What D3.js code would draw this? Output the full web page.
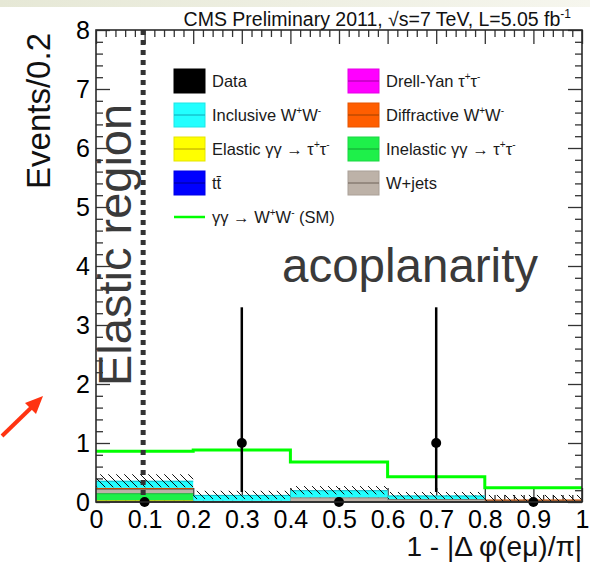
<!DOCTYPE html>
<html>
<head>
<meta charset="utf-8">
<script src="https://cdn.jsdelivr.net/npm/d3@7"></script>
<style>
	body { margin: 0; background: #fff; }
	svg { display: block; font-family: "Liberation Sans", Arial, Helvetica, sans-serif; }
	.axis path, .axis line { stroke: #333; }
	.axis text { fill: #000; font-size: 25px; font-family: "Liberation Sans", Arial, sans-serif; }
	.legend text { font-size: 16.5px; fill: #1a1a1a; }
</style>
</head>
<body>
<div class="chart"></div>
<script>
//---->DATA<-----//
const binEdges = [0, 0.2, 0.4, 0.6, 0.8, 1.0];
const dataCounts = [0, 1, 0, 1, 0];
const dataErrLow = [0, 0.83, 0, 0.83, 0];
const dataErrHigh = [0, 2.30, 0, 2.30, 0];

// stacked backgrounds, bottom to top
const elasticTauTau = [0.03, 0, 0, 0, 0];
const inelasticTauTau = [0.12, 0, 0, 0, 0];
const ttbar = [0, 0, 0, 0, 0];
const wJets = [0.07, 0.02, 0.08, 0.05, 0.03];
const diffractiveWW = [0.02, 0, 0, 0, 0.01];
const drellYan = [0, 0, 0, 0, 0];
const inclusiveWW = [0.12, 0.10, 0.12, 0.06, 0];
const bkgUncert = [0.11, 0.07, 0.07, 0.06, 0.08];

const smSignal = [0.86, 0.88, 0.68, 0.43, 0.24];

const xTicks = [0, 0.1, 0.2, 0.3, 0.4, 0.5, 0.6, 0.7, 0.8, 0.9, 1];
const yTicks = [0, 1, 2, 3, 4, 5, 6, 7, 8];
const elasticCut = 0.097;

//---->LAYOUT<-----//
const outerW = 590,
	outerH = 566;

const margin = { left: 96, right: 8, top: 30, bottom: 64 };
const w = outerW - margin.left - margin.right,
	h = outerH - margin.top - margin.bottom;

const x = d3.scaleLinear().domain([0, 1]).range([0, w]);
const y = d3.scaleLinear().domain([0, 8]).range([h, 0]);

const layers = [
	{ key: 'elastic', values: elasticTauTau, fill: '#ffff00', line: '#b8a000' },
	{ key: 'inelastic', values: inelasticTauTau, fill: '#1ef04a', line: '#10a030' },
	{ key: 'ttbar', values: ttbar, fill: '#0000ff', line: '#000090' },
	{ key: 'wjets', values: wJets, fill: '#bdb2a8', line: '#6e6258' },
	{ key: 'diffractive', values: diffractiveWW, fill: '#ff5e00', line: '#a04000' },
	{ key: 'dy', values: drellYan, fill: '#ff00ff', line: '#a000a0' },
	{ key: 'inclusive', values: inclusiveWW, fill: '#22ffff', line: '#10a8b8' }
];

const bins = d3.range(binEdges.length - 1).map(i => {
	const b = { i: i, x0: binEdges[i], x1: binEdges[i + 1] };
	layers.forEach(l => b[l.key] = l.values[i]);
	return b;
});

const stacked = d3.stack().keys(layers.map(l => l.key))(bins);

const svg = d3.select('.chart').append('svg')
	.attr('width', outerW)
	.attr('height', outerH);

// slide background strip at the very top
const defs = svg.append('defs');
const grad = defs.append('linearGradient').attr('id', 'topband');
grad.append('stop').attr('offset', '0%').attr('stop-color', '#e6e8d6');
grad.append('stop').attr('offset', '100%').attr('stop-color', '#f6f6ee');
svg.append('rect').attr('width', outerW).attr('height', 7).attr('fill', 'url(#topband)');

const hatch = defs.append('pattern')
	.attr('id', 'hatch')
	.attr('patternUnits', 'userSpaceOnUse')
	.attr('width', 8)
	.attr('height', 8);
hatch.append('path')
	.attr('d', 'M-2,-2 L10,10')
	.attr('stroke', '#111')
	.attr('stroke-width', 1);

const g = svg.append('g')
	.attr('transform', `translate(${margin.left}, ${margin.top})`);

// minor / major ticks (drawn first, histograms cover them like ROOT)
const minorX = d3.range(0, 51).map(i => i / 50).filter(v => Math.round(v * 50) % 5 !== 0);
const minorY = d3.range(0, 41).map(i => i / 5).filter(v => Math.round(v * 5) % 5 !== 0);

function addAxis(gen, cls, transform) {
	const a = g.append('g').attr('class', 'axis ' + cls).attr('transform', transform).call(gen);
	a.selectAll('line').attr('stroke-width', 1.3);
	a.select('.domain').remove();
	return a;
}

addAxis(d3.axisBottom(x).tickValues(minorX).tickSize(-7).tickFormat(''), 'x minor', `translate(0, ${h})`);
addAxis(d3.axisTop(x).tickValues(minorX).tickSize(-7).tickFormat(''), 'x minor', 'translate(0, 0)');
addAxis(d3.axisLeft(y).tickValues(minorY).tickSize(-7).tickFormat(''), 'y minor', 'translate(0, 0)');
addAxis(d3.axisRight(y).tickValues(minorY).tickSize(-7).tickFormat(''), 'y minor', `translate(${w}, 0)`);

const xAxis = addAxis(d3.axisBottom(x).tickValues(xTicks).tickSize(-14).tickPadding(8)
	.tickFormat(d => d === 0 || d === 1 ? d3.format('d')(d) : d3.format('.1f')(d)), 'x major', `translate(0, ${h})`);
addAxis(d3.axisTop(x).tickValues(xTicks).tickSize(-14).tickFormat(''), 'x major', 'translate(0, 0)');
const yAxis = addAxis(d3.axisLeft(y).tickValues(yTicks).tickSize(-14).tickPadding(6), 'y major', 'translate(0, 0)');
addAxis(d3.axisRight(y).tickValues(yTicks).tickSize(-14).tickFormat(''), 'y major', `translate(${w}, 0)`);

// stacked backgrounds
stacked.forEach((s, k) => {
	const l = layers[k];
	g.append('g').attr('class', 'layer ' + l.key)
		.selectAll('rect')
		.data(s.filter(d => d[1] - d[0] > 0))
		.enter().append('rect')
		.attr('x', d => x(d.data.x0))
		.attr('width', d => x(d.data.x1) - x(d.data.x0))
		.attr('y', d => y(d[1]))
		.attr('height', d => y(d[0]) - y(d[1]))
		.attr('fill', l.fill);
	g.append('g').selectAll('line')
		.data(s.filter(d => d[1] - d[0] > 0))
		.enter().append('line')
		.attr('x1', d => x(d.data.x0))
		.attr('x2', d => x(d.data.x1))
		.attr('y1', d => y(d[1]) + 0.5)
		.attr('y2', d => y(d[1]) + 0.5)
		.attr('stroke', l.line)
		.attr('stroke-width', 0.8);
});

// uncertainty band
const topLayer = stacked[stacked.length - 1];
g.append('g').attr('class', 'uncert')
	.selectAll('rect')
	.data(bins)
	.enter().append('rect')
	.attr('x', d => x(d.x0))
	.attr('width', d => x(d.x1) - x(d.x0))
	.attr('y', d => y(topLayer[d.i][1] + bkgUncert[d.i]))
	.attr('height', d => y(Math.max(0, topLayer[d.i][1] - bkgUncert[d.i])) - y(topLayer[d.i][1] + bkgUncert[d.i]))
	.attr('fill', 'url(#hatch)');

// bottom axis line
g.append('line')
	.attr('x1', 0).attr('x2', w)
	.attr('y1', h).attr('y2', h)
	.attr('stroke', '#333').attr('stroke-width', 1.5);

// SM signal
const smLine = d3.line()
	.x(d => x(d[0]))
	.y(d => y(d[1]))
	.curve(d3.curveStepAfter);

const smPts = smSignal.map((v, i) => [binEdges[i], v]);
smPts.push([binEdges[binEdges.length - 1], smSignal[smSignal.length - 1]]);

g.append('path')
	.attr('d', smLine(smPts))
	.attr('fill', 'none')
	.attr('stroke', '#00ff00')
	.attr('stroke-width', 3);

// elastic region cut
g.append('line')
	.attr('x1', x(elasticCut)).attr('x2', x(elasticCut))
	.attr('y1', 0).attr('y2', h)
	.attr('stroke', '#333')
	.attr('stroke-width', 5)
	.attr('stroke-dasharray', '5,5');

// data
const centers = bins.map(d => (d.x0 + d.x1) / 2);
g.append('g').attr('class', 'errbars')
	.selectAll('line')
	.data(bins.filter(d => dataCounts[d.i] > 0))
	.enter().append('line')
	.attr('x1', d => x(centers[d.i]))
	.attr('x2', d => x(centers[d.i]))
	.attr('y1', d => y(dataCounts[d.i] - dataErrLow[d.i]))
	.attr('y2', d => y(dataCounts[d.i] + dataErrHigh[d.i]))
	.attr('stroke', '#000')
	.attr('stroke-width', 2.5);

g.append('g').attr('class', 'points')
	.selectAll('circle')
	.data(bins)
	.enter().append('circle')
	.attr('cx', d => x(centers[d.i]))
	.attr('cy', d => y(dataCounts[d.i]))
	.attr('r', 5)
	.attr('fill', '#000');

// frame
g.append('rect')
	.attr('width', w).attr('height', h)
	.attr('fill', 'none')
	.attr('stroke', '#2a2a2a')
	.attr('stroke-width', 1.6);

// annotations
g.append('text')
	.attr('transform', `translate(${35}, ${356}) rotate(-90)`)
	.attr('font-size', 47)
	.attr('fill', '#3a3a3a')
	.text('Elastic region');

g.append('text')
	.attr('x', 186)
	.attr('y', 252)
	.attr('font-size', 47.5)
	.attr('fill', '#3a3a3a')
	.text('acoplanarity');

svg.append('text')
	.attr('transform', 'translate(50, 33) rotate(-90)')
	.attr('text-anchor', 'end')
	.attr('font-size', 33)
	.attr('fill', '#111')
	.text('Events/0.2');

const xTitle = svg.append('text')
	.attr('x', 582)
	.attr('y', 556)
	.attr('text-anchor', 'end')
	.attr('font-size', 28)
	.attr('fill', '#111');
xTitle.append('tspan').text('1 - |\u0394 \u03c6(e\u03bc)/\u03c0|');

const title = svg.append('text')
	.attr('x', 571)
	.attr('y', 26)
	.attr('text-anchor', 'end')
	.attr('font-size', 19.5)
	.attr('fill', '#111');
title.append('tspan').text('CMS Preliminary 2011, \u221As=7 TeV, L=5.05 fb');
title.append('tspan').attr('dy', -8).attr('font-size', 12).text('-1');

// legend
function addRich(sel, parts) {
	parts.forEach(p => {
		const t = sel.append('tspan').text(p[0]);
		if (p[1] === 'sup') t.attr('font-size', 10).attr('dy', -7);
		if (p[1] === 'back') t.attr('dy', 7);
	});
}

const sup = s => [s, 'sup'];
const WW = [['W'], sup('+'), ['W', 'back'], sup('-')];
const TT = [['\u03c4'], sup('+'), ['\u03c4', 'back'], sup('-')];

const legendItems = [
	{ col: 0, row: 0, fill: '#000', line: '#000', parts: [['Data']] },
	{ col: 0, row: 1, fill: '#22ffff', line: '#10a8b8', parts: [['Inclusive ']].concat(WW) },
	{ col: 0, row: 2, fill: '#ffff00', line: '#b8a000', parts: [['Elastic \u03b3\u03b3 \u2192 ']].concat(TT) },
	{ col: 0, row: 3, fill: '#0000ff', line: '#000090', parts: [['tt\u0304']] },
	{ col: 0, row: 4, fill: null, line: '#00ff00', parts: [['\u03b3\u03b3 \u2192 ']].concat(WW).concat([[' (SM)', 'back']]) },
	{ col: 1, row: 0, fill: '#ff00ff', line: '#a000a0', parts: [['Drell-Yan ']].concat(TT) },
	{ col: 1, row: 1, fill: '#ff5e00', line: '#a04000', parts: [['Diffractive ']].concat(WW) },
	{ col: 1, row: 2, fill: '#1ef04a', line: '#10a030', parts: [['Inelastic \u03b3\u03b3 \u2192 ']].concat(TT) },
	{ col: 1, row: 3, fill: '#bdb2a8', line: '#6e6258', parts: [['W+jets']] }
];

const legend = svg.append('g').attr('class', 'legend');
legendItems.forEach(d => {
	const lx = d.col === 0 ? 174 : 348,
		ly = 81 + d.row * 34;
	const it = legend.append('g').attr('transform', `translate(${lx}, ${ly})`);
	if (d.fill) {
		it.append('rect')
			.attr('x', 0).attr('y', -12)
			.attr('width', 31).attr('height', 24)
			.attr('fill', d.fill)
			.attr('stroke', d3.color(d.fill).darker(0.3))
			.attr('stroke-width', 1);
		it.append('line')
			.attr('x1', 0).attr('x2', 31)
			.attr('stroke', d.line).attr('stroke-width', 1);
	} else {
		it.append('line')
			.attr('x1', 0).attr('x2', 31)
			.attr('stroke', d.line).attr('stroke-width', 2.5);
	}
	const t = it.append('text').attr('x', 38).attr('y', 6);
	addRich(t, d.parts);
});

// red arrow from the slide
svg.append('line')
	.attr('x1', 2).attr('y1', 436)
	.attr('x2', 34).attr('y2', 405)
	.attr('stroke', '#ff3311')
	.attr('stroke-width', 4);
svg.append('path')
	.attr('d', 'M43,396 L25,403 L36,414 Z')
	.attr('fill', '#ff3311');
</script>
</body>
</html>
